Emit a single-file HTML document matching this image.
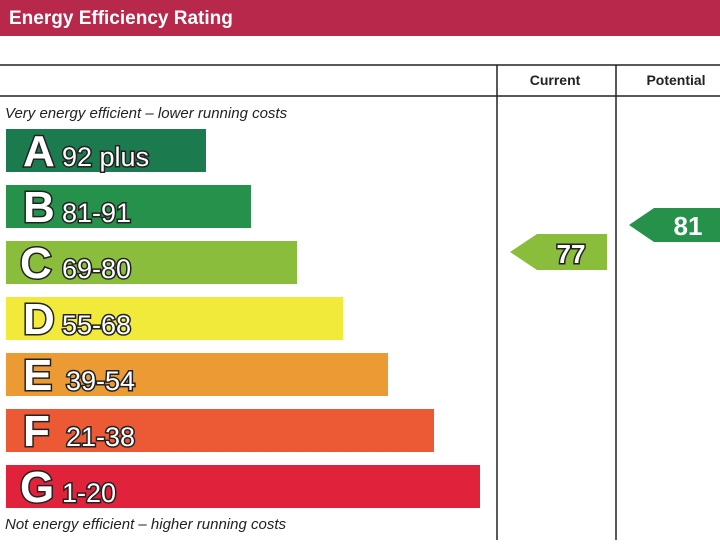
<!DOCTYPE html><html><head><style>html,body{margin:0;padding:0;background:#fff}</style></head><body>
<svg width="720" height="540" xmlns="http://www.w3.org/2000/svg" font-family="Liberation Sans, sans-serif">
<rect x="0" y="0" width="720" height="36" fill="#b8284a"/>
<text x="9" y="24" font-size="19" font-weight="bold" fill="#fff">Energy Efficiency Rating</text>
<line x1="0" y1="65" x2="720" y2="65" stroke="#222" stroke-width="1.5"/>
<line x1="0" y1="96" x2="720" y2="96" stroke="#222" stroke-width="1.5"/>
<line x1="497" y1="65" x2="497" y2="540" stroke="#222" stroke-width="1.5"/>
<line x1="616" y1="65" x2="616" y2="540" stroke="#222" stroke-width="1.5"/>
<text x="555" y="85" font-size="14" font-weight="bold" text-anchor="middle" fill="#222">Current</text>
<text x="676" y="85" font-size="14" font-weight="bold" text-anchor="middle" fill="#222">Potential</text>
<text x="5" y="118" font-size="15" font-style="italic" fill="#222">Very energy efficient – lower running costs</text>
<text x="5" y="529" font-size="15" font-style="italic" fill="#222">Not energy efficient – higher running costs</text>
<rect x="6" y="129" width="200" height="43" fill="#1b7a4e"/>
<rect x="6" y="185" width="245" height="43" fill="#26914a"/>
<rect x="6" y="241" width="291" height="43" fill="#8bbd3c"/>
<rect x="6" y="297" width="337" height="43" fill="#f2ea3a"/>
<rect x="6" y="353" width="382" height="43" fill="#eb9a34"/>
<rect x="6" y="409" width="428" height="43" fill="#ec5935"/>
<rect x="6" y="465" width="474" height="43" fill="#e0223b"/>
<polygon points="510,252 537,234 607,234 607,270 537,270" fill="#8bbd3c"/>
<polygon points="629,225 654,208 720,208 720,242 654,242" fill="#26914a"/>
<g stroke="#222" stroke-width="3" paint-order="stroke" fill="#fff" font-weight="bold" style="paint-order:stroke fill">
<text x="23" y="166" font-size="44">A</text><text x="62" y="166" font-size="27" font-weight="normal">92 plus</text>
<text x="23" y="222" font-size="44">B</text><text x="62" y="222" font-size="27" font-weight="normal">81-91</text>
<text x="20" y="278" font-size="44">C</text><text x="62" y="278" font-size="27" font-weight="normal">69-80</text>
<text x="23" y="334" font-size="44">D</text><text x="62" y="334" font-size="27" font-weight="normal">55-68</text>
<text x="23" y="390" font-size="44">E</text><text x="66" y="390" font-size="27" font-weight="normal">39-54</text>
<text x="23" y="446" font-size="44">F</text><text x="66" y="446" font-size="27" font-weight="normal">21-38</text>
<text x="20" y="502" font-size="44">G</text><text x="62" y="502" font-size="27" font-weight="normal">1-20</text>
<text x="571" y="263" font-size="26" text-anchor="middle">77</text>
<text x="688" y="235" font-size="26" text-anchor="middle" stroke="none">81</text>
</g>
</svg>
</body></html>
